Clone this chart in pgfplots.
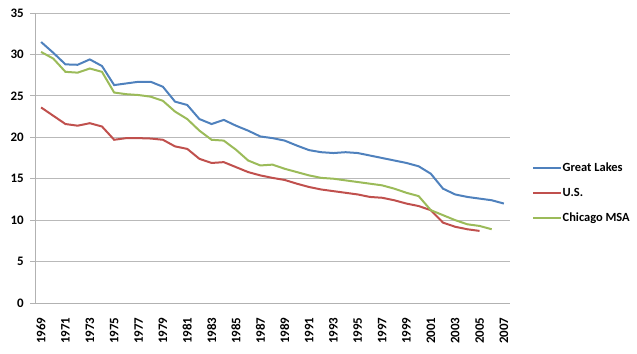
\documentclass[border=0pt]{standalone}
\usepackage{pgfplots}
\pgfplotsset{compat=1.18}
\usepackage{fontspec}
\setmainfont{Carlito}[BoldFont={Carlito Bold}]
\definecolor{cblue}{HTML}{4F81BD}
\definecolor{cred}{HTML}{C0504D}
\definecolor{cgreen}{HTML}{9BBB59}
\begin{document}
\begin{tikzpicture}
\begin{axis}[
  scale only axis,
  width=475bp, height=290bp,
  xmin=1968.5, xmax=2007.5,
  ymin=0, ymax=35,
  ytick={0,5,...,35},
  xtick={1969,1971,...,2007},
  axis lines*=left,
  axis line style={gray!60, line width=0.8bp, -},
  ymajorgrids,
  grid style={gray!55, line width=0.8bp},
  tick align=outside,
  major tick length=5bp,
  xtick style={draw=none},
  ytick style={gray!60, line width=0.8bp},
  /pgf/number format/assume math mode=true,
  /pgf/number format/1000 sep={},
  ticklabel style={font=\fontsize{13}{15}\selectfont\bfseries},
  yticklabel style={inner sep=0pt, xshift=-6bp},
  xticklabel style={rotate=90, anchor=east, inner sep=0pt, xshift=-9.5bp},
  legend image code/.code={\draw[#1] (0bp,0bp) -- (28bp,0bp);},
  legend style={draw=none, fill=none, inner sep=0pt,
    at={(axis description cs:1.0463,0.3793)}, anchor=west,
    font=\fontsize{12.5}{14}\selectfont\bfseries,
    nodes={inner sep=0.5bp, text height=8bp, text depth=2bp},
    row sep=14bp},
  legend cell align=left,
  every axis plot/.append style={line width=2bp},
]
\addplot[cblue] table {
1969 31.5
1970 30.2
1971 28.8
1972 28.75
1973 29.4
1974 28.6
1975 26.3
1976 26.5
1977 26.7
1978 26.7
1979 26.1
1980 24.3
1981 23.9
1982 22.2
1983 21.6
1984 22.1
1985 21.4
1986 20.8
1987 20.1
1988 19.9
1989 19.6
1990 19.0
1991 18.45
1992 18.2
1993 18.1
1994 18.2
1995 18.1
1996 17.8
1997 17.5
1998 17.2
1999 16.9
2000 16.5
2001 15.6
2002 13.8
2003 13.1
2004 12.8
2005 12.6
2006 12.4
2007 12.0
};
\addlegendentry{Great Lakes}
\addplot[cred] table {
1969 23.6
1970 22.6
1971 21.6
1972 21.4
1973 21.7
1974 21.3
1975 19.7
1976 19.9
1977 19.9
1978 19.85
1979 19.7
1980 18.9
1981 18.6
1982 17.4
1983 16.9
1984 17.0
1985 16.4
1986 15.8
1987 15.4
1988 15.1
1989 14.85
1990 14.4
1991 14.0
1992 13.7
1993 13.5
1994 13.3
1995 13.1
1996 12.8
1997 12.7
1998 12.4
1999 12.0
2000 11.7
2001 11.2
2002 9.7
2003 9.2
2004 8.9
2005 8.7
};
\addlegendentry{U.S.}
\addplot[cgreen] table {
1969 30.3
1970 29.5
1971 27.9
1972 27.8
1973 28.3
1974 27.9
1975 25.4
1976 25.2
1977 25.1
1978 24.9
1979 24.4
1980 23.1
1981 22.2
1982 20.8
1983 19.7
1984 19.6
1985 18.5
1986 17.2
1987 16.6
1988 16.7
1989 16.2
1990 15.8
1991 15.4
1992 15.1
1993 15.0
1994 14.8
1995 14.6
1996 14.4
1997 14.2
1998 13.8
1999 13.3
2000 12.9
2001 11.2
2002 10.6
2003 10.0
2004 9.5
2005 9.3
2006 8.9
};
\addlegendentry{Chicago MSA}
\end{axis}
\pgfresetboundingbox
\path (-35bp,-51bp) rectangle (602bp,303bp);
\end{tikzpicture}
\end{document}
